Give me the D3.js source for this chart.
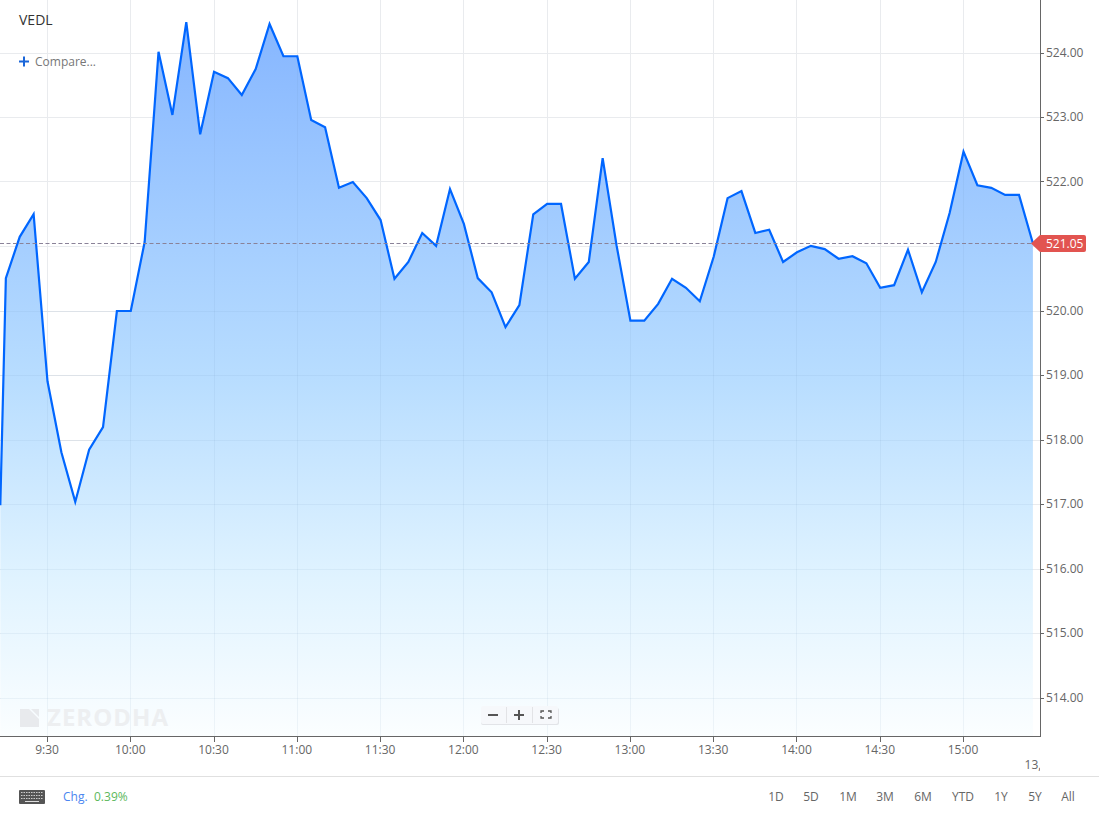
<!DOCTYPE html>
<html><head><meta charset="utf-8">
<script src="https://cdn.jsdelivr.net/npm/d3@7/dist/d3.min.js"></script>
<style>html,body{margin:0;padding:0;background:#fff;overflow:hidden}svg{display:block;font-family:"Open Sans",sans-serif}</style>
</head><body><svg id="c" width="1099" height="817"></svg>
<script>
const times=["9:13","9:15","9:20","9:25","9:30","9:35","9:40","9:45","9:50","9:55","10:00","10:05","10:10","10:15","10:20","10:25","10:30","10:35","10:40","10:45","10:50","10:55","11:00","11:05","11:10","11:15","11:20","11:25","11:30","11:35","11:40","11:45","11:50","11:55","12:00","12:05","12:10","12:15","12:20","12:25","12:30","12:35","12:40","12:45","12:50","12:55","13:00","13:05","13:10","13:15","13:20","13:25","13:30","13:35","13:40","13:45","13:50","13:55","14:00","14:05","14:10","14:15","14:20","14:25","14:30","14:35","14:40","14:45","14:50","14:55","15:00","15:05","15:10","15:15","15:20","15:25"];
const prices=[516.99,520.51,521.15,521.50,518.91,517.81,517.04,517.85,518.20,520.00,520.00,521.07,524.02,523.04,524.48,522.74,523.71,523.61,523.35,523.75,524.45,523.95,523.95,522.96,522.85,521.91,522.00,521.75,521.41,520.50,520.76,521.21,521.01,521.89,521.35,520.51,520.29,519.75,520.09,521.50,521.66,521.66,520.50,520.76,522.37,521.02,519.85,519.85,520.11,520.50,520.36,520.15,520.84,521.75,521.86,521.21,521.26,520.76,520.91,521.01,520.96,520.81,520.85,520.74,520.36,520.40,520.95,520.29,520.76,521.52,522.47,521.95,521.91,521.80,521.80,521.05];
const priceTicks=[514,515,516,517,518,519,520,521,522,523,524];
const timeTicks=["9:30","10:00","10:30","11:00","11:30","12:00","12:30","13:00","13:30","14:00","14:30","15:00"];
const ranges=["1D","5D","1M","3M","6M","YTD","1Y","5Y","All"];
const rangeX=[776,811,848,885,923,963,1001,1035,1068];
const lastPrice=521.05;

const mins=s=>{const[a,b]=s.split(":").map(Number);return a*60+b};
const x=d3.scaleLinear().domain([mins("9:30"),mins("15:00")]).range([47.5,963.5]);
const y=d3.scaleLinear().domain([514,524]).range([698,53]);
const px=v=>Math.floor(v)+.5;
const svg=d3.select("#c");
const data=times.map((t,i)=>({m:mins(t),v:prices[i]}));
const W=1040,B=736;

const defs=svg.append("defs");
const g=defs.append("linearGradient").attr("id","fill").attr("gradientUnits","userSpaceOnUse").attr("x1",0).attr("x2",0).attr("y1",22).attr("y2",736);
g.append("stop").attr("offset",0).attr("stop-color","#86b6ff");
g.append("stop").attr("offset",.5).attr("stop-color","#b8ddff");
g.append("stop").attr("offset",.78).attr("stop-color","#e0f3ff");
g.append("stop").attr("offset",1).attr("stop-color","#fbfeff");
defs.append("clipPath").attr("id","plot").append("rect").attr("x",0).attr("y",0).attr("width",W).attr("height",B);

// grid
svg.append("g").selectAll("line").data(priceTicks).join("line")
 .attr("x1",0).attr("x2",W).attr("y1",d=>px(y(d))).attr("y2",d=>px(y(d)))
 .attr("stroke","#e9ebee");
svg.append("g").selectAll("line").data(timeTicks).join("line")
 .attr("x1",d=>px(x(mins(d)))).attr("x2",d=>px(x(mins(d)))).attr("y1",0).attr("y2",B)
 .attr("stroke","#e9ebee");

const plot=svg.append("g").attr("clip-path","url(#plot)");
plot.append("path").datum(data).attr("fill","url(#fill)")
 .attr("d",d3.area().x(d=>x(d.m)).y0(B).y1(d=>y(d.v)));
// grid shows faintly through the area
plot.append("g").selectAll("line").data(timeTicks).join("line")
 .attr("x1",d=>px(x(mins(d)))).attr("x2",d=>px(x(mins(d)))).attr("y1",d=>y(data.find(p=>p.m===mins(d)).v)).attr("y2",B)
 .attr("stroke","#5d7fa8").attr("stroke-opacity",.08);
plot.append("g").selectAll("line").data(priceTicks.filter(d=>d<521)).join("line")
 .attr("x1",0).attr("x2",1033).attr("y1",d=>px(y(d))).attr("y2",d=>px(y(d)))
 .attr("stroke","#5d7fa8").attr("stroke-opacity",.08);

// watermark
const wm=svg.append("g");
wm.append("path").attr("d","M20 709H29L39 719V727H20Z M31 709H39V717Z").attr("fill","#e8eaed");
wm.append("text").attr("x",47).attr("y",726).attr("font-size",24).attr("font-weight",700).attr("fill","#edeff1").attr("letter-spacing",1).text("ZERODHA");

// last price line
svg.append("line").attr("x1",0).attr("x2",1033).attr("y1",243.5).attr("y2",243.5).attr("stroke","#8a8298").attr("stroke-dasharray","4 2.5");
plot.append("path").datum(data).attr("fill","none").attr("stroke","#0066ff").attr("stroke-width",2.2).attr("stroke-linejoin","miter")
 .attr("d",d3.line().x(d=>x(d.m)).y(d=>y(d.v)));

// axes frame
svg.append("line").attr("x1",1040.5).attr("x2",1040.5).attr("y1",0).attr("y2",737).attr("stroke","#666");
svg.append("line").attr("x1",0).attr("x2",1041).attr("y1",736.5).attr("y2",736.5).attr("stroke","#666");
svg.append("g").selectAll("line").data(timeTicks).join("line")
 .attr("x1",d=>px(x(mins(d)))).attr("x2",d=>px(x(mins(d)))).attr("y1",736).attr("y2",742).attr("stroke","#666");
svg.append("g").selectAll("line").data(priceTicks.filter(d=>d!==521)).join("line")
 .attr("x1",1040).attr("x2",1044).attr("y1",d=>px(y(d))).attr("y2",d=>px(y(d))).attr("stroke","#666");
svg.append("g").selectAll("text").data(timeTicks).join("text")
 .attr("x",d=>x(mins(d))-.5).attr("y",754).attr("text-anchor","middle").attr("font-size",12).attr("fill","#666").text(d=>d);
svg.append("g").selectAll("text").data(priceTicks.filter(d=>d!==521)).join("text")
 .attr("x",1046).attr("y",d=>y(d)+3.6).attr("font-size",12).attr("fill","#666").text(d=>d.toFixed(2));

// clipped trailing label
svg.append("clipPath").attr("id","tl").append("rect").attr("x",1000).attr("y",750).attr("width",40).attr("height",25);
svg.append("text").attr("clip-path","url(#tl)").attr("x",1024.6).attr("y",769).attr("font-size",12).attr("fill","#666").text("13,");

// price flag
svg.append("path").attr("d","M1031 243.5L1040 235H1084Q1086 235 1086 237V250Q1086 252 1084 252H1040Z").attr("fill","#e25450");
svg.append("text").attr("x",1046).attr("y",248).attr("font-size",12).attr("fill","#fff").text(lastPrice.toFixed(2));

// header
svg.append("text").attr("x",19).attr("y",25).attr("font-size",14).attr("fill","#333").text("VEDL");
svg.append("path").attr("d","M19 61.5H29M24 56.5V66.5").attr("stroke","#1a66d9").attr("stroke-width",2).attr("fill","none");
svg.append("text").attr("x",35).attr("y",66).attr("font-size",12).attr("fill","#777").text("Compare...");

// zoom control
const zc=svg.append("g");
zc.append("rect").attr("x",481).attr("y",708).attr("width",78).attr("height",17).attr("rx",2).attr("fill","#e2e4e8");
zc.append("rect").attr("x",481).attr("y",706).attr("width",77).attr("height",18).attr("rx",2).attr("fill","#f6f8fb");
zc.append("path").attr("d","M488 715H498M514 715H524M519 710V720").attr("stroke","#555").attr("stroke-width",2).attr("fill","none");
zc.append("path").attr("d","M506.5 707V723M532.5 707V723").attr("stroke","#e2e3e6").attr("fill","none");
zc.append("path").attr("d","M541 713V711H544M548 711H551V713M551 716V718H548M544 718H541V716").attr("stroke","#555").attr("stroke-width",1.3).attr("fill","none");

// footer
svg.append("line").attr("x1",0).attr("x2",1099).attr("y1",776.5).attr("y2",776.5).attr("stroke","#e0e0e0");
const kb=svg.append("g");
kb.append("rect").attr("x",19).attr("y",790).attr("width",26).attr("height",14).attr("rx",1).attr("fill","#555");
const keyRows=[792.5,795.5,798.5];
keyRows.forEach(r=>kb.append("line").attr("x1",21).attr("x2",43).attr("y1",r).attr("y2",r).attr("stroke","#ccc").attr("stroke-dasharray","1.5 1"));
kb.append("line").attr("x1",25).attr("x2",39).attr("y1",801.5).attr("y2",801.5).attr("stroke","#ddd");
svg.append("text").attr("x",63).attr("y",801).attr("font-size",12).attr("fill","#4a86f0").text("Chg.");
svg.append("text").attr("x",94).attr("y",801).attr("font-size",12).attr("fill","#5cb85c").text("0.39%");
svg.append("g").selectAll("text").data(ranges).join("text")
 .attr("x",(d,i)=>rangeX[i]).attr("y",801).attr("text-anchor","middle").attr("font-size",12).attr("fill","#666").text(d=>d);
</script></body></html>
